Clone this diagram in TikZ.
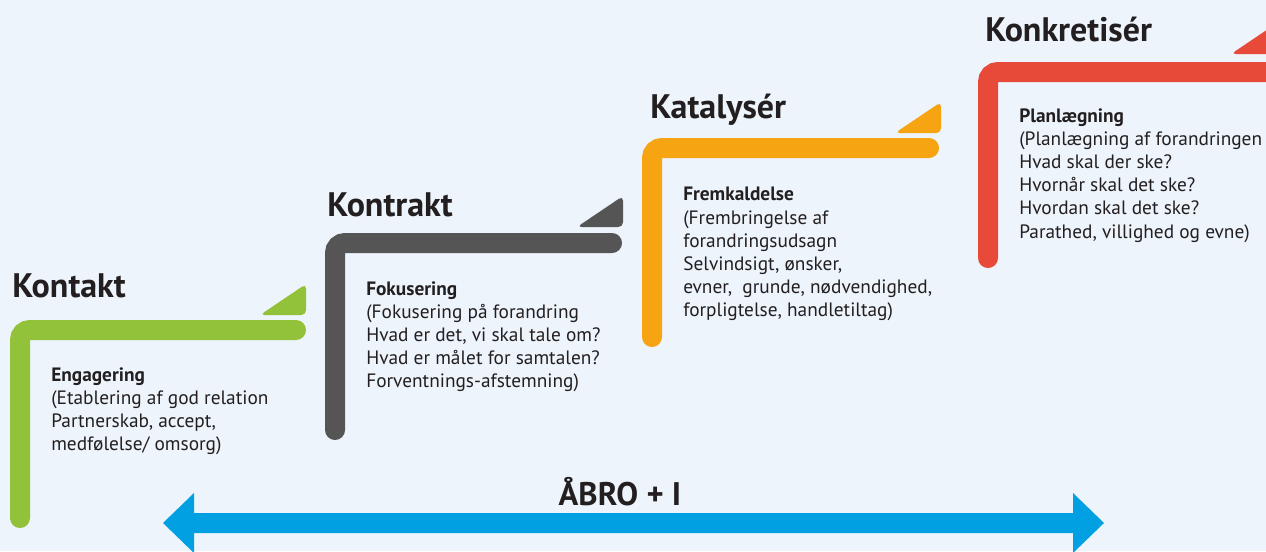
\documentclass[tikz,border=0pt]{standalone}
\usepackage{fontspec}
\setmainfont{PT Sans}
\definecolor{bgc}{HTML}{EDF4FB}
\definecolor{cgreen}{HTML}{92C13A}
\definecolor{cgray}{HTML}{555556}
\definecolor{corange}{HTML}{F6A412}
\definecolor{cred}{HTML}{E84A3A}
\definecolor{cblue}{HTML}{00A0E2}
\definecolor{ctext}{HTML}{231F20}
\tikzset{
  stepline/.style={line width=15pt, line cap=round, rounded corners=7.5pt},
  flag/.style={rounded corners=3.5pt},
  title/.style={anchor=base west, inner sep=0pt, font=\bfseries\fontsize{25.5}{30}\selectfont, text=ctext},
  body/.style={anchor=north west, inner sep=0pt, align=left, font=\fontsize{14.5}{17.4}\selectfont, text=ctext},
}
\begin{document}
\begin{tikzpicture}[x=0.75pt, y=-0.75pt]
\useasboundingbox (0,0) rectangle (1266,551);
\clip (0,0) rectangle (1266,551);
\fill[bgc] (0,0) rectangle (1266,551);

% green step
\draw[stepline, cgreen] (20,518) -- (20,330) -- (296,330);
\fill[flag, cgreen] (260,315) -- (306,315) -- (306,284) -- cycle;
\node[title] (t1) at (12,297) {Kontakt};
\node[body] (b1) at (51,367) {\textbf{Engagering}\\(Etablering af god relation\\Partnerskab, accept,\\medfølelse/ omsorg)};

% gray step
\draw[stepline, cgray] (335,430) -- (335,243) -- (612,243);
\fill[flag, cgray] (577,227) -- (623,227) -- (623,196) -- cycle;
\node[title] (t2) at (327,216) {Kontrakt};
\node[body] (b2) at (366,281) {\textbf{Fokusering}\\(Fokusering på forandring\\Hvad er det, vi skal tale om?\\Hvad er målet for samtalen?\\Forventnings-afstemning)};

% orange step
\draw[stepline, corange] (652,337) -- (652,148) -- (929,148);
\fill[flag, corange] (895,133) -- (941,133) -- (941,102) -- cycle;
\node[title] (t3) at (650,118) {Katalysér};
\node[body] (b3) at (683,187) {\textbf{Fremkaldelse}\\(Frembringelse af\\forandringsudsagn\\Selvindsigt, ønsker,\\evner,\ \ grunde, nødvendighed,\\forpligtelse, handletiltag)};

% red step
\draw[stepline, cred] (988,258) -- (988,72) -- (1300,72);
\fill[flag, cred] (1231,54) -- (1280,54) -- (1280,21) -- cycle;
\node[title] (t4) at (985,41) {Konkretisér};
\node[body] (b4) at (1019,108) {\textbf{Planlægning}\\(Planlægning af forandringen\\Hvad skal der ske?\\Hvornår skal det ske?\\Hvordan skal det ske?\\Parathed, villighed og evne)};

% blue double arrow
\coordinate (la) at (163,523);
\coordinate (ra) at (1104,523);
\fill[cblue] (la) -- (194,493) -- (194,513) -- (1073,513) -- (1073,493) -- (ra)
  -- (1073,553) -- (1073,533) -- (194,533) -- (194,553) -- cycle;
\node[anchor=base, inner sep=0pt, font=\bfseries\fontsize{24.5}{28}\selectfont, text=ctext] (ab) at (620,505) {ÅBRO + I};
\end{tikzpicture}
\end{document}
